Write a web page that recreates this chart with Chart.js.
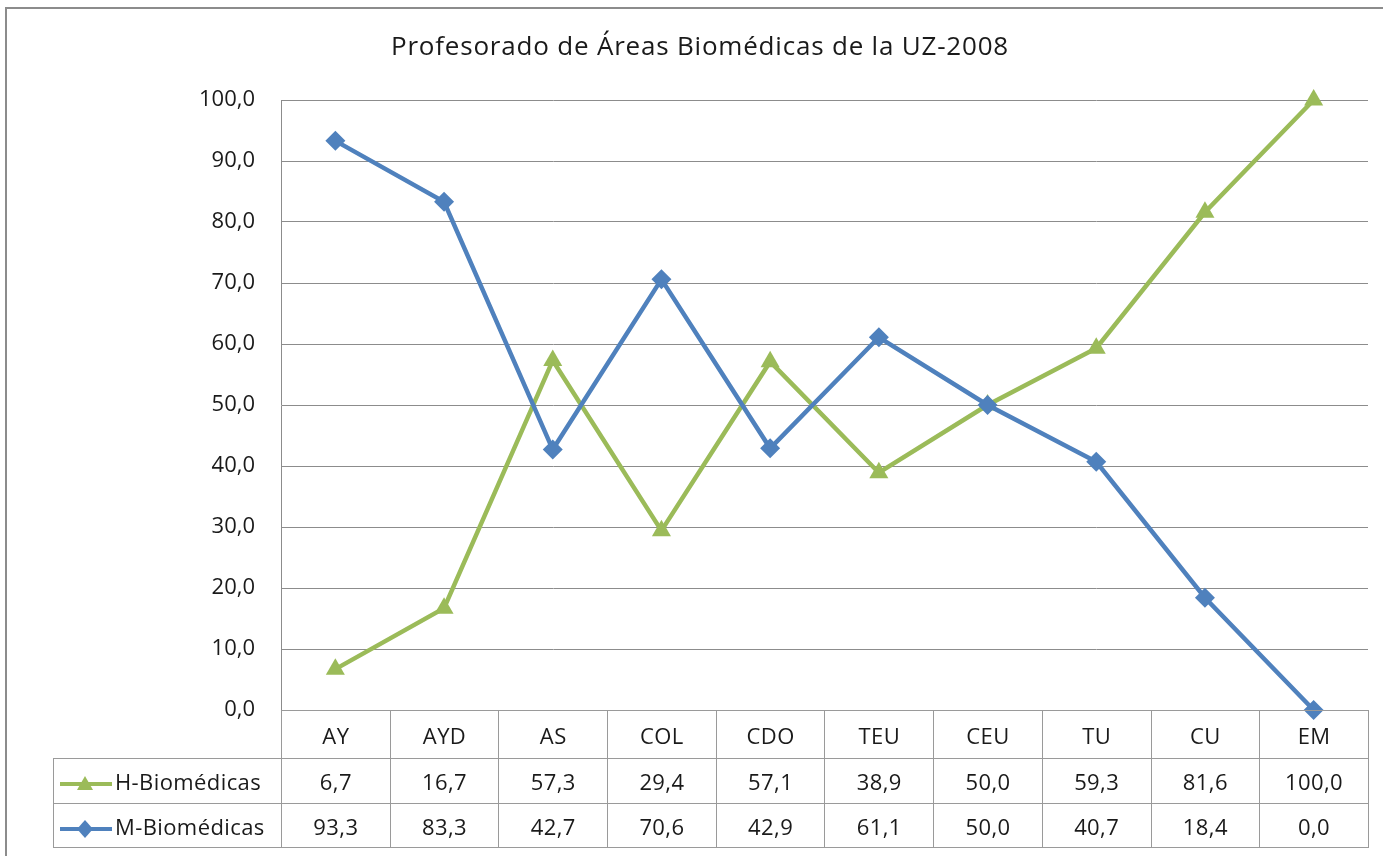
<!DOCTYPE html>
<html>
<head>
<meta charset="utf-8">
<script src="https://cdn.jsdelivr.net/npm/chart.js@4.4.0/dist/chart.umd.min.js"></script>
<style>
  html, body { margin: 0; padding: 0; background: #fff; overflow: hidden; }
  #wrap { position: relative; width: 1383px; height: 856px; font-family: "Open Sans", sans-serif; }
  #frame { position: absolute; left: 5px; top: 7px; width: 1400px; height: 900px; border: 2px solid #8c8c8c; box-sizing: border-box; }
  #title { position: absolute; left: 200px; width: 1000px; top: 27px; text-align: center; font-size: 26px; letter-spacing: 0.8px; color: #1a1a1a; }
  #chart { position: absolute; left: 0; top: 0; }
  #dataTable { position: absolute; border-collapse: collapse; table-layout: fixed; font-size: 22px; letter-spacing: 0.4px; color: #1a1a1a; }
  #dataTable td { border: 1px solid #9a9a9a; text-align: center; padding: 0; white-space: nowrap; }
  #dataTable td.blank { border: none; }
  #dataTable td.key { text-align: left; padding-left: 4px; }
  #dataTable svg { vertical-align: middle; margin-right: 1px; }
</style>
</head>
<body>
<div id="wrap">
  <div id="frame"></div>
  <canvas id="chart" width="1383" height="856"></canvas>
  <div id="title">Profesorado de Áreas Biomédicas de la UZ-2008</div>
  <table id="dataTable"></table>
</div>
<script>
// chart data
const categories = ['AY', 'AYD', 'AS', 'COL', 'CDO', 'TEU', 'CEU', 'TU', 'CU', 'EM'];
const hBiomedicas = [6.7, 16.7, 57.3, 29.4, 57.1, 38.9, 50.0, 59.3, 81.6, 100.0];
const mBiomedicas = [93.3, 83.3, 42.7, 70.6, 42.9, 61.1, 50.0, 40.7, 18.4, 0.0];
const yTicks = [0, 10, 20, 30, 40, 50, 60, 70, 80, 90, 100];

const green = '#9BBB59';
const blue = '#4F81BD';

function fmt(v) {
    return v.toFixed(1).replace('.', ',');
}

const ctx = document.getElementById('chart').getContext('2d');
const chart = new Chart(ctx, {
    type: 'line',
    data: {
        labels: categories,
        datasets: [{
            label: 'H-Biomédicas',
            data: hBiomedicas,
            borderColor: green,
            backgroundColor: green,
            borderWidth: 4.5,
            pointStyle: 'triangle',
            pointRadius: 11,
            pointBorderWidth: 0,
            tension: 0,
            clip: false,
            order: 1
        }, {
            label: 'M-Biomédicas',
            data: mBiomedicas,
            borderColor: blue,
            backgroundColor: blue,
            borderWidth: 4.5,
            pointStyle: 'rectRot',
            pointRadius: 10,
            pointBorderWidth: 0,
            tension: 0,
            clip: false,
            order: 0
        }]
    },
    options: {
        responsive: false,
        animation: false,
        layout: {
            padding: { left: 0, right: 15, top: 100, bottom: 146 }
        },
        plugins: {
            legend: { display: false },
            title: { display: false },
            tooltip: { enabled: false }
        },
        scales: {
            x: {
                display: false,
                offset: true
            },
            y: {
                min: 0,
                max: 100,
                afterBuildTicks: (scale) => {
                    scale.ticks = yTicks.map(v => ({ value: v }));
                },
                afterFit: (scale) => {
                    scale.width = 281;
                },
                border: { display: true, color: '#8c8c8c', width: 1 },
                grid: { color: '#8c8c8c', lineWidth: 1, drawTicks: false },
                ticks: {
                    padding: 26,
                    color: '#1a1a1a',
                    font: { family: 'Open Sans', size: 22 },
                    callback: (v) => fmt(v)
                }
            }
        }
    }
});

// data table under the plot, aligned with the category scale
function keySvg(color, style) {
    let marker;
    if (style === 'triangle') {
        marker = '<polygon points="27,2 35,16 19,16" fill="' + color + '"/>';
    } else {
        marker = '<polygon points="27,1 35,10 27,19 19,10" fill="' + color + '"/>';
    }
    return '<svg width="56" height="20"><line x1="2" y1="10" x2="54" y2="10" stroke="' + color +
        '" stroke-width="4"/>' + marker + '</svg>';
}

function buildTable() {
    const area = chart.chartArea;
    const colW = (area.right - area.left) / categories.length;
    const keyLeft = 53;
    const table = document.getElementById('dataTable');
    table.style.left = keyLeft + 'px';
    table.style.top = area.bottom + 'px';

    let html = '<colgroup><col style="width:' + (area.left - keyLeft) + 'px">';
    categories.forEach(() => { html += '<col style="width:' + colW + 'px">'; });
    html += '</colgroup>';

    html += '<tr style="height:48px"><td class="blank"></td>';
    categories.forEach(c => { html += '<td>' + c + '</td>'; });
    html += '</tr>';

    const rows = [
        { name: 'H-Biomédicas', values: hBiomedicas, color: green, style: 'triangle', h: 45 },
        { name: 'M-Biomédicas', values: mBiomedicas, color: blue, style: 'rectRot', h: 44 }
    ];
    rows.forEach(r => {
        html += '<tr style="height:' + r.h + 'px"><td class="key">' + keySvg(r.color, r.style) + r.name + '</td>';
        r.values.forEach(v => { html += '<td>' + fmt(v) + '</td>'; });
        html += '</tr>';
    });
    table.innerHTML = html;
}

buildTable();
</script>
</body>
</html>
